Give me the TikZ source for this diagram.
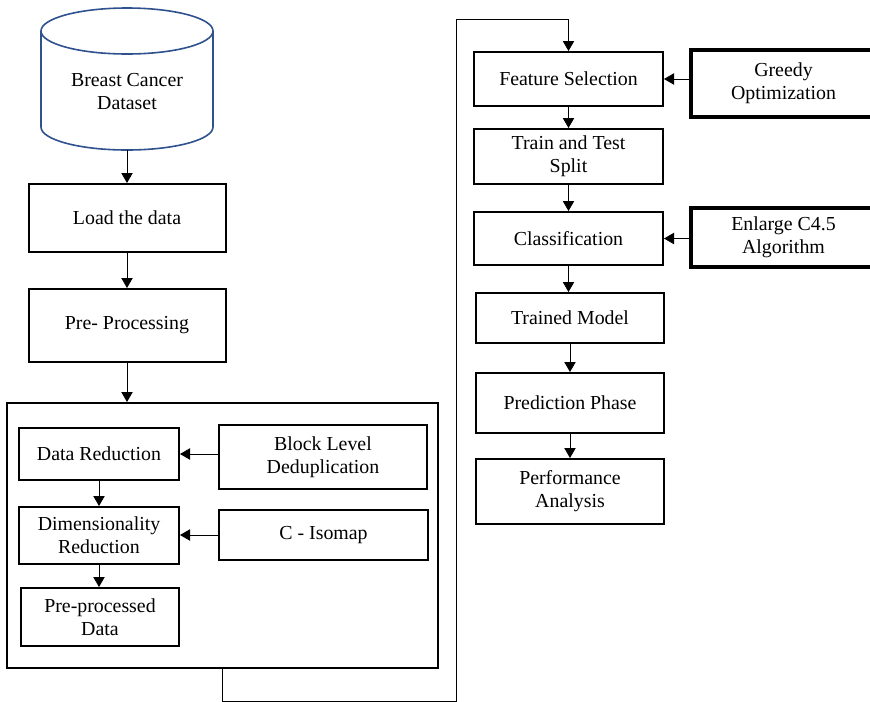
\documentclass[tikz,border=0pt]{standalone}
\usepackage{fontspec}
\setmainfont{Liberation Serif}
\usetikzlibrary{arrows.meta}
\definecolor{dbblue}{RGB}{47,82,143}
\tikzset{
  procbox/.style={draw, line width=1.5pt, align=center, inner sep=0.75pt},
  sidebox/.style={draw, line width=2.6pt, align=center, inner sep=0.75pt},
  conn/.style={line width=0.6pt, -{Triangle[length=7.5pt,width=8.5pt]}}
}
\begin{document}
\begin{tikzpicture}[x=0.75pt,y=0.75pt,yscale=-1,xscale=1,font=\fontsize{14.9}{17.3}\selectfont]
    %set diagram size 870 x 701
    \clip (0,0) rectangle (870,701);
    \fill[white] (0,0) rectangle (870,701);

    %Shape: Can [id:dataset]
    \draw [color=dbblue, line width=1.2pt] (41,31) -- (41,127) arc[start angle=180, end angle=0, x radius=86, y radius=23] -- (213,31) ;
    \draw [color=dbblue, line width=1.2pt] (127,31) ellipse [x radius=86, y radius=23] ;
    \coordinate (dsbot) at (127,150);
    % Text Node
    \node (dataset) at (127,91.5) [align=center] {Breast Cancer\\Dataset};

    %Shape: Rectangle [id:load]
    \node (load) at (127,218) [procbox, minimum width=147.75pt, minimum height=51pt] {Load the data};
    %Shape: Rectangle [id:prep]
    \node (prep) at (127,325.5) [procbox, minimum width=147.75pt, minimum height=54.75pt] {Pre- Processing};

    %Shape: Rectangle [id:stage]
    \node (stage) at (222.5,535.5) [procbox, minimum width=323.25pt, minimum height=198.75pt] {};
    \node (dred) at (99,454) [procbox, minimum width=120pt, minimum height=39pt] {Data Reduction};
    \node (bld) at (323,457) [procbox, minimum width=156pt, minimum height=48pt] {Block Level\\Deduplication};
    \node (dimred) at (99,535.5) [procbox, minimum width=120pt, minimum height=42.75pt] {Dimensionality\\Reduction};
    \node (ciso) at (323.5,535) [procbox, minimum width=156.75pt, minimum height=37.5pt] {C - Isomap};
    \node (ppd) at (100,617) [procbox, minimum width=118.5pt, minimum height=43.5pt] {Pre-processed\\Data};

    %Shape: Rectangle [id:right column]
    \node (fsel) at (568.5,79) [procbox, minimum width=141.75pt, minimum height=40.5pt] {Feature Selection};
    \node (greedy) at (783.5,83.5) [sidebox, minimum width=138.75pt, minimum height=50.25pt] {Greedy\\Optimization};
    \node (tts) at (568.5,156.5) [procbox, minimum width=141.75pt, minimum height=41.25pt] {Train and Test\\Split};
    \node (clf) at (568.5,238.5) [procbox, minimum width=141.75pt, minimum height=39.75pt] {Classification};
    \node (enl) at (783.5,237.5) [sidebox, minimum width=138.75pt, minimum height=44.25pt] {Enlarge C4.5\\Algorithm};
    \node (tm) at (570,318) [procbox, minimum width=141pt, minimum height=37.5pt] {Trained Model};
    \node (pp) at (570,403) [procbox, minimum width=141pt, minimum height=45pt] {Prediction Phase};
    \node (pa) at (570,491.5) [procbox, minimum width=141pt, minimum height=48.75pt] {Performance\\Analysis};

    %Straight Lines
    \draw [conn] (dsbot) -- (load.north) ;
    \draw [conn] (load.south) -- (prep.north) ;
    \draw [conn] (prep.south) -- (prep.south |- stage.north) ;
    \draw [conn] (bld.west |- dred.east) -- (dred.east) ;
    \draw [conn] (dred.south) -- (dimred.north) ;
    \draw [conn] (ciso.west) -- (ciso.west -| dimred.east) ;
    \draw [conn] (dimred.south) -- (dimred.south |- ppd.north) ;
    %Connector [id:stage to fsel]
    \draw [conn] (stage.south) -- ++(0,32) -| (456,19) -| (fsel.north) ;
    \draw [conn] (greedy.west |- fsel.east) -- (fsel.east) ;
    \draw [conn] (fsel.south) -- (tts.north) ;
    \draw [conn] (tts.south) -- (clf.north) ;
    \draw [conn] (enl.west |- clf.east) -- (clf.east) ;
    \draw [conn] (clf.south) -- (clf.south |- tm.north) ;
    \draw [conn] (tm.south) -- (pp.north) ;
    \draw [conn] (pp.south) -- (pa.north) ;

\end{tikzpicture}
\end{document}
